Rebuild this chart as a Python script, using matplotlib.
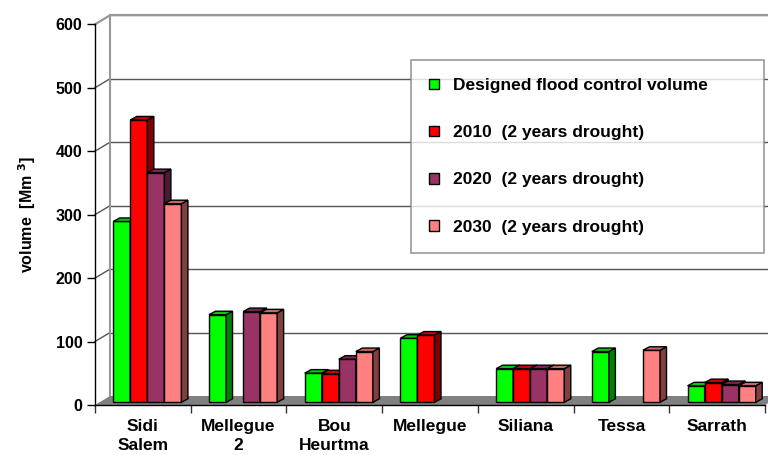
import matplotlib
matplotlib.use("Agg")
import matplotlib.pyplot as plt
import numpy as np
from matplotlib.patches import Polygon, Rectangle
from matplotlib.transforms import offset_copy

plt.rcParams["font.family"] = ["Liberation Sans", "DejaVu Sans"]
plt.rcParams["font.weight"] = "bold"

# reservoir volumes, Mm3 (nan = no bar)
reservoirs = ["Sidi\nSalem", "Mellegue\n2", "Bou\nHeurtma", "Mellegue", "Siliana", "Tessa", "Sarrath"]
series = ["Designed flood control volume", "2010  (2 years drought)",
          "2020  (2 years drought)", "2030  (2 years drought)"]
designed = [285, 138, 46, 101, 53, 80, 26]
y2010 = [445, np.nan, 45, 106, 53, np.nan, 31]
y2020 = [362, 143, 68, np.nan, 53, np.nan, 28]
y2030 = [313, 141, 80, np.nan, 53, 82, 26]
yticks = [0, 100, 200, 300, 400, 500, 600]

front = ["#00ff00", "#ff0000", "#993366", "#ff8080"]
side = ["#008000", "#800000", "#4d1a33", "#804040"]
top = ["#00cc00", "#cc0000", "#7a2952", "#cc6666"]

W, H, DPI = 7.68, 4.55, 100
fig = plt.figure(figsize=(W, H), dpi=DPI, facecolor="white")
# front plane of the 3d box, in pixels
x0px, x1px, y0px, y1px = 95, 765, 405, 24.3
ax = fig.add_axes([x0px / 768, 1 - y0px / 455, (x1px - x0px) / 768, (y0px - y1px) / 455])
ax.set_xlim(0, len(reservoirs))
ax.set_ylim(0, 600)
ax.patch.set_visible(False)
for s in ax.spines.values():
    s.set_visible(False)

# unit conversions (pixels per data unit)
ppx = (x1px - x0px) / len(reservoirs)
ppy = (y0px - y1px) / 600

# depth offsets in pixels
BACK = (15, 9)
PLANE = (4.5, 2.7)
DEPTH = (6.5, 3.5)

back_tr = offset_copy(ax.transData, fig, x=BACK[0], y=BACK[1], units="dots")
bar_tr = offset_copy(ax.transData, fig, x=PLANE[0], y=PLANE[1], units="dots")
bx, by = BACK[0] / ppx, BACK[1] / ppy

n = len(reservoirs)
# floor
ax.add_patch(Polygon([(0, 0), (n, 0), (n + bx, by), (bx, by)], closed=True,
                     facecolor="#808080", edgecolor="none", zorder=1, clip_on=False))
# back wall grid + left wall connectors
for t in yticks[1:]:
    ax.plot([0, n], [t, t], transform=back_tr, color="#555555", lw=1, zorder=0.5, clip_on=False)
    ax.plot([0, bx], [t, t + by], color="#555555", lw=1, zorder=0.5, clip_on=False)
ax.plot([0, bx], [600, 600 + by], color="#999999", lw=1.5, zorder=0.6, clip_on=False)
ax.plot([0, n], [600, 600], transform=back_tr, color="#999999", lw=1.5, zorder=0.6, clip_on=False)
ax.plot([0, 0], [0, 600], transform=back_tr, color="#999999", lw=1.5, zorder=0.6, clip_on=False)

# axes lines
ax.plot([0, 0], [0, 600], color="black", lw=1, zorder=2, clip_on=False)
ax.plot([0, n], [0, 0], color="black", lw=1, zorder=2, clip_on=False)

# 3d-looking bars
values = [designed, y2010, y2020, y2030]
w = 0.178
dx, dy = DEPTH[0] / ppx, DEPTH[1] / ppy
z = 3
for c in range(n):
    for k, vals in enumerate(values):
        v = vals[c]
        if np.isnan(v):
            continue
        xl = c + 0.5 + (k - 2) * w
        xr = xl + w
        ax.add_patch(Rectangle((xl, 0), w, v, transform=bar_tr, facecolor=front[k],
                               edgecolor="black", lw=1, zorder=z, clip_on=False))
        ax.add_patch(Polygon([(xr, 0), (xr, v), (xr + dx, v + dy), (xr + dx, dy)],
                             closed=True, transform=bar_tr, facecolor=side[k],
                             edgecolor="black", lw=1, zorder=z, clip_on=False))
        ax.add_patch(Polygon([(xl, v), (xr, v), (xr + dx, v + dy), (xl + dx, v + dy)],
                             closed=True, transform=bar_tr, facecolor=top[k],
                             edgecolor="black", lw=1, zorder=z, clip_on=False))
        z += 0.01

# ticks
ax.set_yticks(yticks)
ax.set_yticklabels([str(t) for t in yticks], fontsize=11.5, fontweight="bold")
ax.set_xticks(np.arange(n + 1))
ax.set_xticklabels([])
ax.set_xticks(np.arange(n) + 0.5, minor=True)
ax.set_xticklabels(reservoirs, minor=True, fontsize=12.5, fontweight="bold", linespacing=1.35)
ax.tick_params(axis="x", which="major", direction="out", length=6, width=1, color="#333333")
ax.tick_params(axis="x", which="minor", length=0, pad=10)
ax.tick_params(axis="y", direction="out", length=6, width=1, pad=3)
for lab in ax.get_xticklabels(minor=True):
    lab.set_verticalalignment("top")

ax.set_ylabel("volume  [Mm $^{3}$]", fontsize=11.5, fontweight="bold", labelpad=13)

# legend
handles = [Rectangle((0, 0), 1, 1, facecolor=front[k], edgecolor="black", lw=1) for k in range(4)]
lx, ly, lw_, lh = 411 / 768, 1 - 255 / 455, (764 - 411) / 768, (255 - 60) / 455
leg = fig.legend(handles, series, loc="upper left", bbox_to_anchor=(lx, ly, lw_, lh),
                 mode="expand", frameon=True, fancybox=False, edgecolor="#808080",
                 prop={"size": 12.5, "weight": "bold"},
                 handlelength=0.55, handleheight=0.55, handletextpad=0.8, labelspacing=1.85,
                 borderpad=1.05, borderaxespad=0)
leg.get_frame().set_linewidth(1.2)
leg._legend_box.align = "left"

fig.savefig("out.png", dpi=DPI, facecolor="white")
